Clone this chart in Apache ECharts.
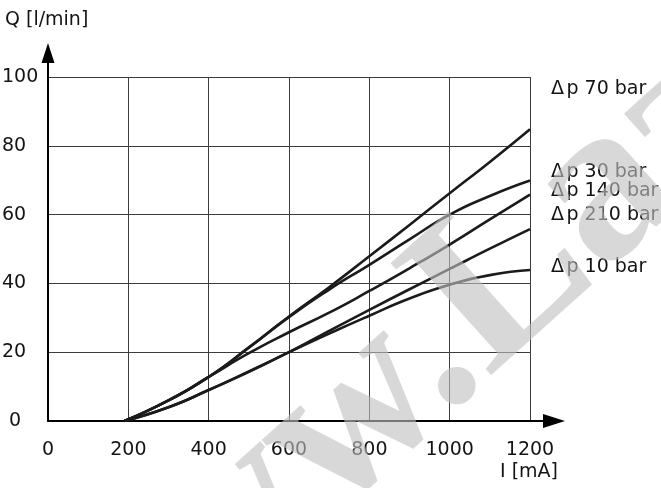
<!DOCTYPE html>
<html>
<head>
<meta charset="utf-8">
<script src="https://cdn.jsdelivr.net/npm/echarts@6/dist/echarts.min.js"></script>
<style>
  html, body { margin: 0; padding: 0; background: #fff; }
  #chart { width: 661px; height: 488px; }
</style>
</head>
<body>
<div id="chart"></div>
<script>
// Control current I [mA] (x) against flow Q [l/min] (y), one curve per pressure drop
const currentMA = [190, 300, 400, 500, 600, 700, 800, 900, 1000, 1100, 1200];
const dp70  = [0, 6.0, 12.8, 21.4, 30.4, 38.9, 47.9, 57.0, 66.2, 75.3, 84.8];
const dp30  = [0, 6.0, 12.8, 21.3, 30.2, 38.2, 45.4, 52.8, 60.0, 65.4, 69.9];
const dp140 = [0, 6.0, 12.8, 19.7, 25.8, 31.5, 37.8, 44.4, 51.3, 58.6, 65.8];
const dp210 = [0, 4.0, 9.0, 14.4, 20.0, 26.2, 32.3, 38.3, 44.2, 50.1, 55.8];
const dp10  = [0, 4.0, 9.0, 14.3, 20.0, 25.4, 30.6, 35.6, 39.6, 42.4, 43.9];

const seriesNames = ['Δp 70 bar', 'Δp 30 bar', 'Δp 140 bar', 'Δp 210 bar', 'Δp 10 bar'];
const seriesValues = [dp70, dp30, dp140, dp210, dp10];

const xTicks = [0, 200, 400, 600, 800, 1000, 1200];
const yTicks = [0, 20, 40, 60, 80, 100];

const xTitle = 'I [mA]';
const yTitle = 'Q [l/min]';

const FONT = '"DejaVu Sans", sans-serif';
const FS = 19;
const TEXT = '#141414';
const INK = '#1b1b1b';

const chart = echarts.init(document.getElementById('chart'), null, { renderer: 'canvas' });

const series = seriesNames.map((name, i) => ({
  name: name,
  type: 'line',
  data: currentMA.map((x, k) => [x, seriesValues[i][k]]),
  smooth: 0.55,
  showSymbol: false,
  symbol: 'none',
  lineStyle: { color: INK, width: 2.6 },
  z: 5,
  silent: true
}));

chart.setOption({
  animation: false,
  backgroundColor: '#ffffff',
  grid: { left: 48, right: 131, top: 77, bottom: 67, containLabel: false, outerBoundsMode: 'none' },
  xAxis: {
    type: 'value',
    min: xTicks[0],
    max: xTicks[xTicks.length - 1],
    interval: xTicks[1] - xTicks[0],
    axisLine: { show: true, onZero: false, lineStyle: { color: '#000', width: 2 } },
    axisTick: { show: false },
    axisLabel: { color: TEXT, fontFamily: FONT, fontSize: FS, margin: 20, formatter: v => String(v) },
    splitLine: { show: true, lineStyle: { color: '#3c3c3c', width: 1 } }
  },
  yAxis: {
    type: 'value',
    min: yTicks[0],
    max: yTicks[yTicks.length - 1],
    interval: yTicks[1] - yTicks[0],
    axisLine: { show: true, onZero: false, lineStyle: { color: '#000', width: 2 } },
    axisTick: { show: false },
    axisLabel: {
      color: TEXT, fontFamily: FONT, fontSize: FS, margin: 46, align: 'left',
      formatter: v => (v === 0 ? '{z|0}' : String(v)),
      rich: { z: { fontFamily: FONT, fontSize: FS, color: TEXT, padding: [0, 0, 0, 7] } }
    },
    splitLine: { show: true, lineStyle: { color: '#3c3c3c', width: 1 } }
  },
  series: series
});

// Axis extensions with arrow heads, curve labels, axis titles
const o = chart.convertToPixel({ gridIndex: 0 }, [0, 0]);
const yTop = chart.convertToPixel({ gridIndex: 0 }, [0, 100])[1];
const xEnd = chart.convertToPixel({ gridIndex: 0 }, [1200, 0])[0];

const labelRows = [89, 172, 191, 215, 267];

const graphics = [
  { type: 'line', shape: { x1: o[0], y1: yTop, x2: o[0], y2: yTop - 15 }, style: { stroke: '#000', lineWidth: 2 }, z: 10 },
  { type: 'polygon', shape: { points: [[o[0], yTop - 34], [o[0] - 6.5, yTop - 14], [o[0] + 6.5, yTop - 14]] }, style: { fill: '#000' }, z: 10 },
  { type: 'line', shape: { x1: xEnd, y1: o[1], x2: xEnd + 14, y2: o[1] }, style: { stroke: '#000', lineWidth: 2 }, z: 10 },
  { type: 'polygon', shape: { points: [[xEnd + 35, o[1]], [xEnd + 13, o[1] - 7], [xEnd + 13, o[1] + 7]] }, style: { fill: '#000' }, z: 10 },
  { type: 'text', x: 5, y: 20, style: { text: yTitle, font: FS + 'px ' + FONT, fill: TEXT, verticalAlign: 'middle', align: 'left' }, z: 10 },
  { type: 'text', x: 558, y: 472, style: { text: xTitle, font: FS + 'px ' + FONT, fill: TEXT, verticalAlign: 'middle', align: 'right' }, z: 10 }
];

seriesNames.forEach((name, i) => {
  const sym = name.charAt(0);
  graphics.push({
    type: 'text', x: 551, y: labelRows[i],
    style: {
      text: '{d|' + sym + '}' + name.slice(1),
      font: FS + 'px ' + FONT, fill: TEXT, verticalAlign: 'middle', align: 'left',
      rich: { d: { fontFamily: FONT, fontSize: FS, fill: TEXT, padding: [0, 2.5, 0, 0] } }
    },
    z: 10
  });
});

// Faint diagonal site stamp over the plot
graphics.push({
  type: 'text', x: 45, y: 697, rotation: 42 * Math.PI / 180,
  style: { text: 'www.Laz', font: 'bold 230px "Liberation Serif", serif', fill: '#c0c0c0', opacity: 0.62, verticalAlign: 'middle', align: 'left' },
  z: 20, silent: true
});

chart.setOption({ graphic: graphics });
</script>
</body>
</html>
